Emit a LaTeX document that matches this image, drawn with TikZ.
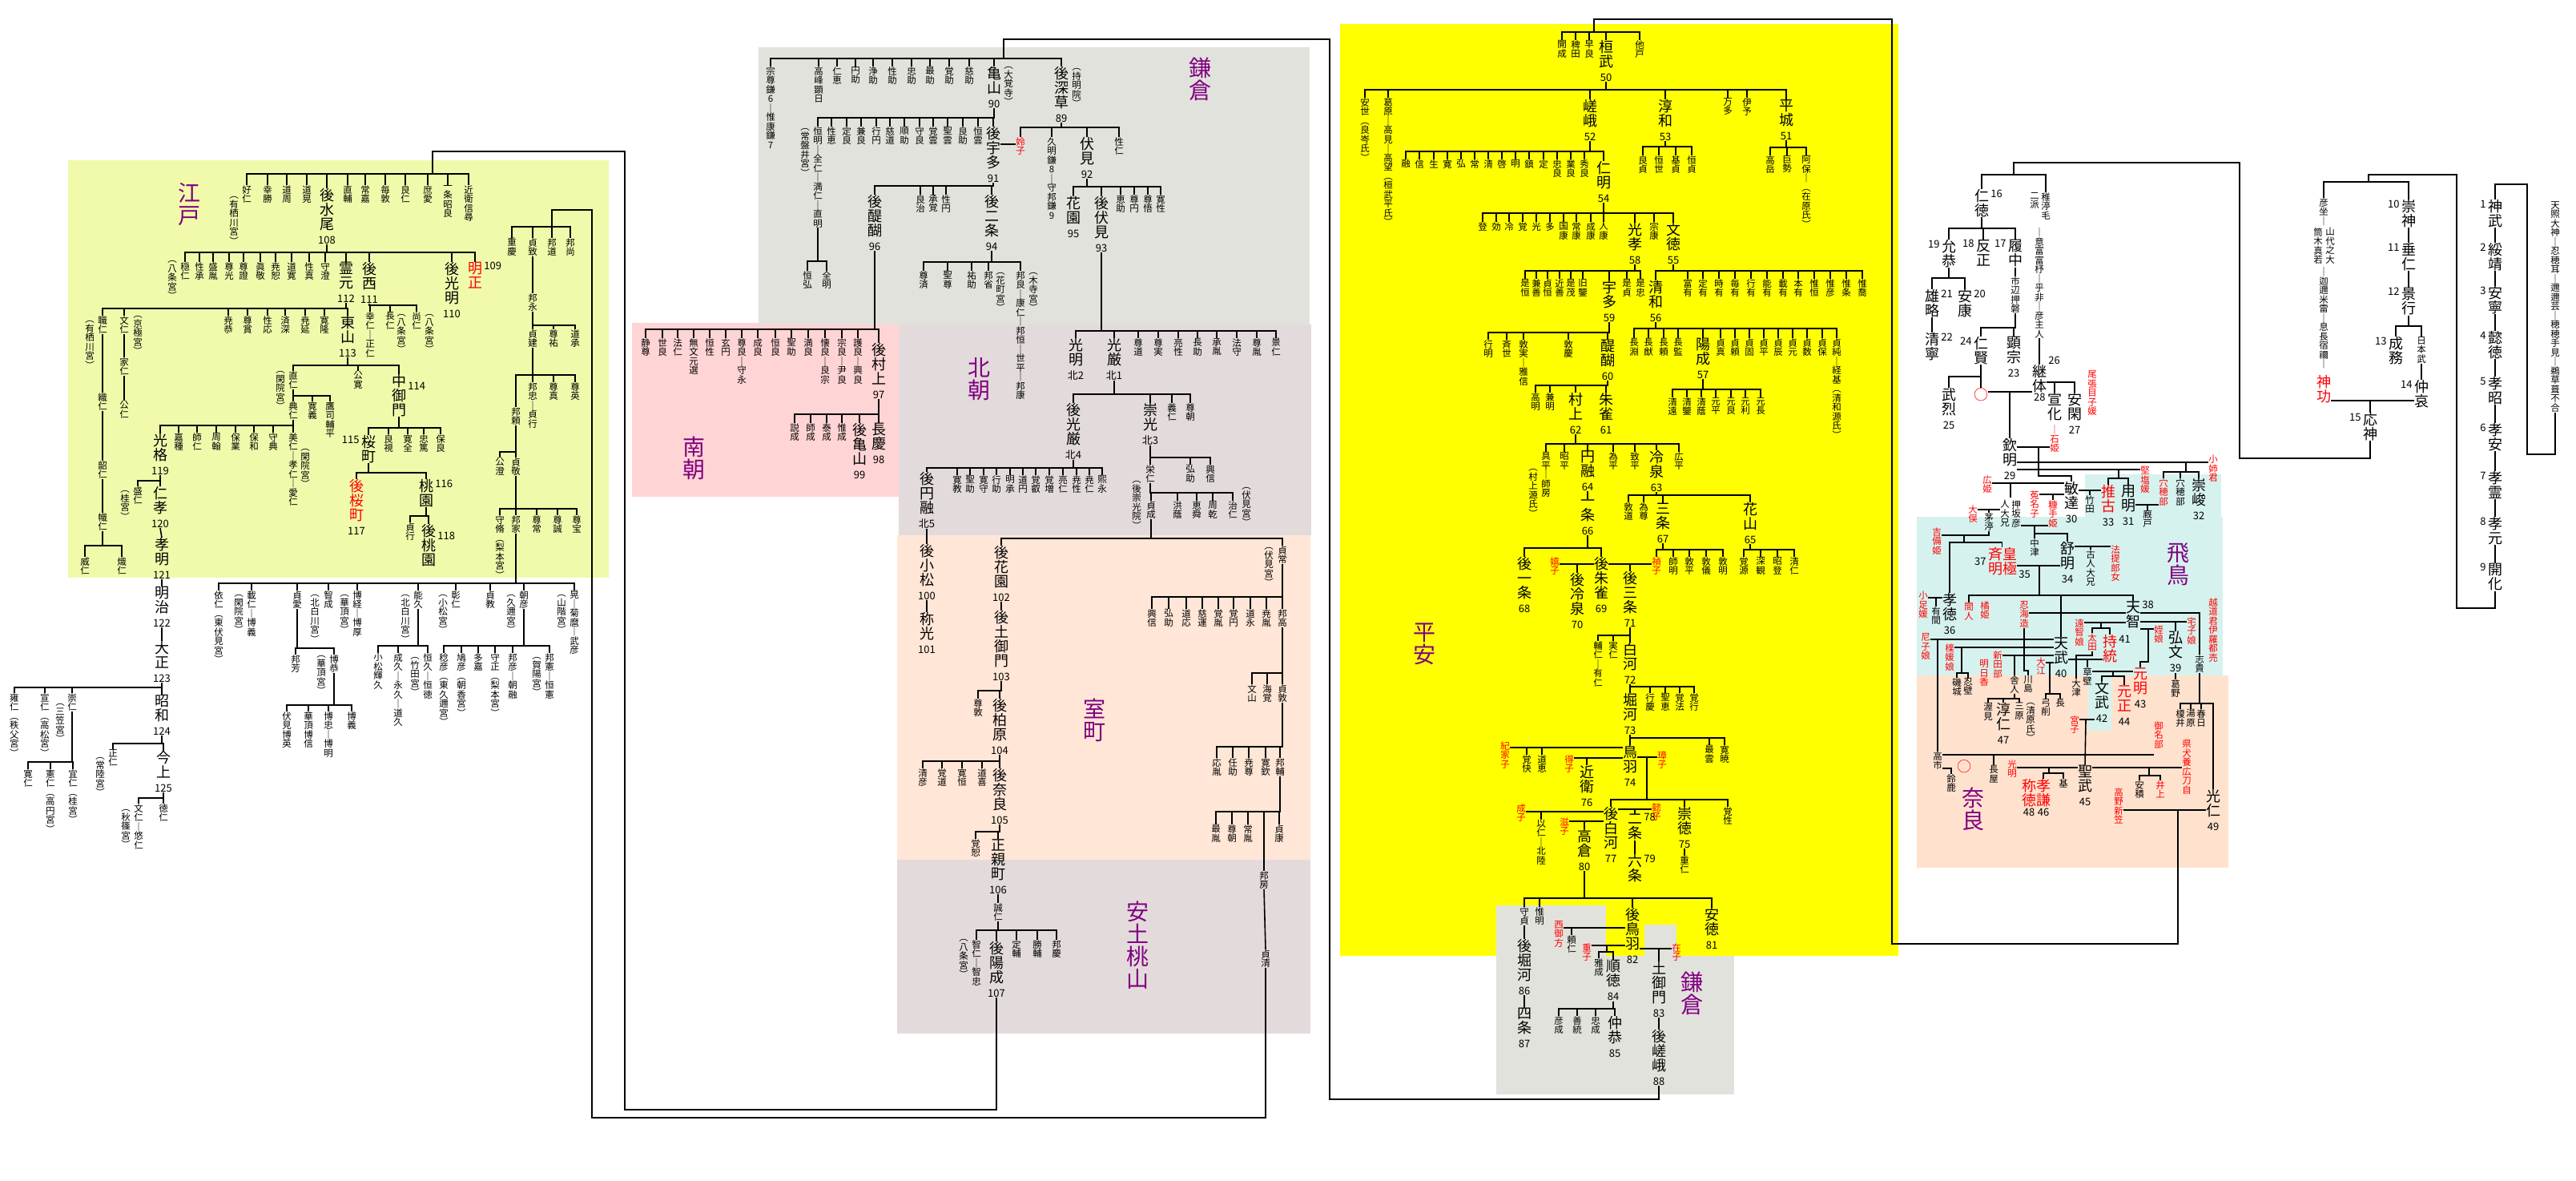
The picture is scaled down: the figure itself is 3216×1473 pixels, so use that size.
\documentclass[tikz,border=0pt]{standalone}
\usepackage{fontspec}
\setmainfont{Noto Sans CJK JP}
\definecolor{edoC}{RGB}{240,250,170}
\definecolor{kamaC}{RGB}{226,226,220}
\definecolor{hokuC}{RGB}{227,219,219}
\definecolor{nanC}{RGB}{255,212,212}
\definecolor{muroC}{RGB}{255,230,214}
\definecolor{heiC}{RGB}{255,255,0}
\definecolor{asuC}{RGB}{214,242,238}
\definecolor{naraC}{RGB}{255,226,206}
\definecolor{eraC}{RGB}{128,0,128}
\ExplSyntaxOn
\cs_new_protected:Npn \jv_vt:n #1
  {
    \vbox:n
      {
        \skip_set:Nn \baselineskip { 1.0em }
        \dim_set:Nn \lineskiplimit { -\maxdimen }
        \tl_map_inline:nn {#1} { \hbox_to_wd:nn { 1em } { \hss ##1 \hss } }
      }
  }
\cs_generate_variant:Nn \jv_vt:n { e }
\NewDocumentCommand \vt { m } { \jv_vt:e {#1} }
\cs_new_protected:Npn \jv_vtn:nn #1 #2
  {
    \vbox:n
      {
        \skip_set:Nn \baselineskip { 1.0em }
        \dim_set:Nn \lineskiplimit { -\maxdimen }
        \tl_map_inline:nn {#1} { \hbox_to_wd:nn { 1em } { \hss ##1 \hss } }
        \hbox_to_wd:nn { 1em } { \hss \color{black}\fontsize{6.5}{7}\selectfont #2 \hss }
      }
  }
\NewDocumentCommand \vtn { m m } { \jv_vtn:nn {#1} {#2} }
\ExplSyntaxOff
\tikzset{
 emp/.style={anchor=north,inner sep=0pt,font=\fontsize{9}{9}\selectfont},
 mn/.style={anchor=north,inner sep=0pt,font=\fontsize{5.75}{5.75}\selectfont},
 rd/.style={text=red},
 nmb/.style={inner sep=0.8pt,text=black,font=\fontsize{6.5}{7}\selectfont},
 nl/.style={label={[nmb]150:#1}},
 nr/.style={label={[nmb]30:#1}},
 era/.style={anchor=north,inner sep=0pt,font=\fontsize{14}{14}\selectfont,text=eraC},
 lk/.style={line width=0.8pt},
 dotn/.style={inner sep=0pt,minimum size=0pt,outer sep=0pt},
}
\newcommand\ch[3]{\foreach \cn in {#3}{\draw[lk] (#1.south) |- (\cn.north |- 0,#2) -- (\cn.north);}}
\newcommand\kids[4]{%
  \foreach \kx/\kn [count=\ki] in {#4}{%
    \node[mn] (#1k\ki) at (\kx,#3) {\vt{\kn}};
    \draw[lk] (#1.south) |- (\kx,#2) -- (#1k\ki.north);
  }}
\begin{document}
\begin{tikzpicture}[x=0.5pt,y=-0.5pt]
\useasboundingbox (0,0) rectangle (3216,1473);
\fill[white] (0,0) rectangle (3216,1473);
% ---------- era boxes
\fill[edoC] (85,200) rectangle (760,721);
\fill[nanC] (789,403) rectangle (1122,620);
\fill[kamaC] (947,59) rectangle (1635,405);
\fill[hokuC] (1122,405) rectangle (1637,668);
\fill[muroC] (1120,668) rectangle (1636,1073);
\fill[hokuC] (1120,1073) rectangle (1636,1290);
\fill[heiC] (1673,30) rectangle (2370,1193);
\fill[kamaC] (1868,1130) rectangle (2005,1366);
\fill[kamaC] (2005,1193) rectangle (2165,1366);
\fill[kamaC] (2053,1154) rectangle (2093,1193);
\fill[asuC] (2393,645) rectangle (2775,843);
\fill[asuC] (2603,592) rectangle (2773,645);
\fill[naraC] (2393,843) rectangle (2782,1083);
\fill[asuC] (2607,843) rectangle (2636,912);
% ---------- era labels
\node[era] (edoL) at (236,228) {\vt{江戸}};
\node[era] (nanL) at (866,545) {\vt{南朝}};
\node[era] (kamaL) at (1498,72) {\vt{鎌倉}};
\node[era] (hokuL) at (1222,446) {\vt{北朝}};
\node[era] (muroL) at (1366,872) {\vt{室町}};
\node[era] (azuL) at (1420,1125) {\vt{安土桃山}};
\node[era] (heiL) at (1778,777) {\vt{平安}};
\node[era] (kama2L) at (2112,1213) {\vt{鎌倉}};
\node[era] (asuL) at (2719,677) {\vt{飛鳥}};
\node[era] (naraL) at (2463,983) {\vt{奈良}};

% ================= mythological / early =================
\node[mn] (amat) at (3190,251) {\vt{天照大神｜忍穂耳｜邇邇芸｜穂穂手見｜鵜草葺不合}};
\node[emp,nl=1] (e1) at (3115,249) {\vt{神武}};
\node[emp,nl=2] (e2) at (3115,303) {\vt{綏靖}};
\node[emp,nl=3] (e3) at (3115,357) {\vt{安寧}};
\node[emp,nl=4] (e4) at (3115,413) {\vt{懿徳}};
\node[emp,nl=5] (e5) at (3115,470) {\vt{孝昭}};
\node[emp,nl=6] (e6) at (3115,528) {\vt{孝安}};
\node[emp,nl=7] (e7) at (3115,588) {\vt{孝霊}};
\node[emp,nl=8] (e8) at (3115,645) {\vt{孝元}};
\node[emp,nl=9] (e9) at (3115,703) {\vt{開化}};
\foreach \a/\b in {e1/e2,e2/e3,e3/e4,e4/e5,e5/e6,e6/e7,e7/e8,e8/e9} \draw[lk] (\a.south) -- (\b.north);
\draw[lk] (e1.north) -- (3115,230) -- (3155,230) -- (3155,567) -- (3190,567) -- (amat.south);
\node[dotn] (sjb) at (2957,227) {};
\draw[lk] (e9.south) -- (3115,759) -- (3067,759) -- (3067,218) -- (2957,218) -- (sjb);
\node[mn] (hiko) at (2901,247) {\vt{彦坐｜}};
\node[emp,nl=10] (e10) at (3007,249) {\vt{崇神}};
\foreach \n in {hiko,e10} \draw[lk] (sjb) -| (\n.north);
\node[mn] (yamaA) at (2909,284) {\vt{山代之大}};
\node[mn] (yamaB) at (2894,284) {\vt{筒木真若}};
\node[mn] (kane) at (2901,333) {\vt{｜迦邇米雷｜息長宿禰｜}};
\node[emp,rd] (jingu) at (2901,468) {\vt{神功}};
\node[emp,nl=11] (e11) at (3007,303) {\vt{垂仁}};
\node[emp,nl=12] (e12) at (3007,359) {\vt{景行}};
\draw[lk] (e10.south) -- (e11.north);
\draw[lk] (e11.south) -- (e12.north);
\node[dotn] (kgyb) at (3007,407) {};
\draw[lk] (e12.south) -- (kgyb);
\node[emp,nl=13] (e13) at (2991,420) {\vt{成務}};
\node[mn] (takeru) at (3023,420) {\vt{日本武}};
\foreach \n in {e13,takeru} \draw[lk] (kgyb) -| (\n.north);
\node[emp,nl=14] (e14) at (3023,474) {\vt{仲哀}};
\draw[lk] (takeru.south) -- (e14.north);
\draw[lk] (jingu.east |- 0,500) -- (e14.west |- 0,500);
\node[emp,nl=15] (e15) at (2959,515) {\vt{応神}};
\draw[lk] (2959,500) -- (e15.north);
\node[dotn] (ojb) at (2514,218) {};
\draw[lk] (e15.south) -- (2959,572) -- (2796,572) -- (2796,203) -- (2514,203) -- (ojb);

% ================= Kofun =================
\node[emp,nr=16] (e16) at (2474,236) {\vt{仁徳}};
\node[mn] (chigiA) at (2554,240) {\vt{稚渟毛}};
\node[mn] (chigiB) at (2540,240) {\vt{二派}};
\foreach \n in {e16,chigiA} \draw[lk] (ojb) -| (\n.north);
\node[mn] (ofo) at (2546,284) {\vt{｜意富富杼｜乎非｜彦主人}};
\node[emp,label={[nmb]60:26}] (e26) at (2546,455) {\vt{継体}};
\draw[lk] (ofo.south) -- (e26.north);
\node[emp,nl=19] (e19) at (2433,299) {\vt{允恭}};
\node[emp,nl=18] (e18) at (2476,299) {\vt{反正}};
\node[emp,nl=17] (e17) at (2516,299) {\vt{履中}};
\ch{e16}{285}{e19,e18,e17}
\node[mn] (ichinobe) at (2516,345) {\vt{市辺押磐}};
\draw[lk] (e17.south) -- (ichinobe.north);
\node[emp,nr=21] (e21) at (2412,361) {\vt{雄略}};
\node[emp,nr=20] (e20) at (2453,361) {\vt{安康}};
\ch{e19}{347}{e21,e20}
\node[emp,nr=22] (e22) at (2412,415) {\vt{清寧}};
\draw[lk] (e21.south) -- (e22.north);
\node[emp,nl=24] (e24) at (2473,420) {\vt{仁賢}};
\node[emp] (e23) at (2514,420) {\vtn{顕宗}{23}};
\ch{ichinobe}{409}{e24,e23}
\node[emp] (e25) at (2433,484) {\vtn{武烈}{25}};
\node[emp,rd] (maru1) at (2473,484) {○};
\ch{e24}{470}{e25,maru1}
\node[emp,nl=28] (e28) at (2565,490) {\vt{宣化}};
\node[emp] (e27) at (2590,490) {\vtn{安閑}{27}};
\draw[lk] (e26.east |- 0,477) -| (e28.north);
\draw[lk] (e26.east |- 0,477) -| (e27.north);
\node[mn,rd] (ishihime) at (2565,530) {\vt{｜石姫}};
\node[mn,rd] (owari) at (2612,462) {\vt{尾張目子媛}};
\node[emp] (e29) at (2509,547) {\vtn{欽明}{29}};
\draw[lk] (maru1.east |- 0,489) -- (e26.west |- 0,489);
\draw[lk] (2509,489) -- (e29.north);
\draw[lk] (e29.east |- 0,558) -- (ishihime.west |- 0,558);
\node[emp] (e30) at (2586,601) {\vtn{敏達}{30}};
\draw[lk] (2545,558) -- (2545,594) -| (e30.north);
\node[mn,rd] (koane) at (2763,568) {\vt{小姉君}};
\draw[lk] (e29.east |- 0,577) -- (koane.west |- 0,577);
\draw[lk] (2729,577) -- (2729,589);
\node[mn,rd] (anahoR) at (2701,597) {\vt{穴穂部}};
\node[mn] (anaho) at (2722,597) {\vt{穴穂部}};
\node[emp] (e32) at (2745,597) {\vtn{崇峻}{32}};
\foreach \n in {anahoR,anaho,e32} \draw[lk] (2729,589) -| (\n.north);
\node[mn,rd] (kitashi) at (2678,582) {\vt{堅塩媛}};
\draw[lk] (e29.east |- 0,586) -- (kitashi.west |- 0,586);
\draw[lk] (2645,586) -- (2645,597);
\node[emp,rd] (e33) at (2632,605) {\vtn{推古}{33}};
\node[emp] (e31) at (2657,605) {\vtn{用明}{31}};
\foreach \n in {e33,e31} \draw[lk] (2645,597) -| (\n.north);
\node[mn] (takeda) at (2609,618) {\vt{竹田}};
\draw[lk] (e30.east |- 0,612) -- (e33.west |- 0,612);
\draw[lk] (2609,612) -- (takeda.north);
\node[mn] (umayado) at (2681,637) {\vt{厩戸}};
\draw[lk] (e31.east |- 0,630) -- (anahoR.west |- 0,630);
\draw[lk] (2681,630) -- (umayado.north);
\node[mn,rd] (hiro) at (2481,593) {\vt{広姫}};
\draw[lk] (hiro.east |- 0,603) -- (e30.west |- 0,603);
\node[mn] (oshiA) at (2517,624) {\vt{押坂彦}};
\node[mn] (oshiB) at (2503,624) {\vt{人大兄}};
\draw[lk] (2510,603) -- (2510,621);
\node[mn,rd] (unako) at (2540,612) {\vt{菟名子}};
\node[mn,rd] (nukate) at (2563,624) {\vt{糠手姫}};
\draw[lk] (unako.east |- 0,617) -- (e30.west |- 0,617);
\draw[lk] (2563,617) -- (nukate.north);
\draw[lk] (oshiA.east |- 0,656) -- (nukate.west |- 0,656);
\draw[lk] (2540,656) -- (2540,666);
\node[mn] (nakatsu) at (2540,672) {\vt{中津}};
\node[emp] (e34) at (2581,676) {\vtn{舒明}{34}};
\foreach \n in {nakatsu,e34} \draw[lk] (2540,666) -| (\n.north);
\node[mn,rd] (omata) at (2463,630) {\vt{大俣}};
\node[mn] (chinu) at (2483,640) {\vt{茅渟}};
\draw[lk] (omata.east |- 0,636) -- (oshiB.west |- 0,636);
\draw[lk] (2483,636) -- (chinu.north);
\node[mn,rd] (kibi) at (2418,658) {\vt{吉備姫}};
\draw[lk] (kibi.east |- 0,668) -| (chinu.south);
\draw[lk] (2452,668) -- (2452,677);

% ================= Asuka / Nara =================
\node[emp] (e36) at (2434,740) {\vtn{孝徳}{36}};
\node[emp,rd,label={[nmb]below right:35}] (kogyoku) at (2509,683) {\vt{皇極}};
\node[emp,rd,label={[nmb]left:37}] (saimei) at (2491,683) {\vt{斉明}};
\draw[lk] (2452,677) -| (e36.north);
\draw[lk] (2452,677) -| (kogyoku.north west);
\draw[lk] (kogyoku.east |- 0,706) -- (e34.west |- 0,706);
\draw[lk] (2546,706) -- (2546,743);
\node[emp,nr=38] (e38) at (2663,750) {\vt{天智}};
\node[emp] (e40) at (2573,795) {\vtn{天武}{40}};
\node[mn,rd] (hashihito) at (2458,752) {\vt{間人}};
\foreach \n in {hashihito,e40,e38} \draw[lk] (2546,743) -| (\n.north);
\node[mn,rd] (kotarashi) at (2401,738) {\vt{小足媛}};
\node[mn] (arima) at (2417,757) {\vt{有間}};
\draw[lk] (kotarashi.east |- 0,746) -- (e36.west |- 0,746);
\draw[lk] (2417,746) -- (arima.north);
\node[mn] (furuhito) at (2610,686) {\vt{古人大兄}};
\node[mn,rd] (hote) at (2641,680) {\vt{法提郎女}};
\draw[lk] (e34.east |- 0,682) -- (hote.west |- 0,682);
\draw[lk] (2610,682) -- (furuhito.north);
\node[mn,rd] (tachibana) at (2478,750) {\vt{橘姫}};
\node[mn,rd] (oshinumi) at (2527,750) {\vt{忍海造}};
\draw[lk] (oshinumi.east |- 0,765) -- (e38.west |- 0,765);
\node[mn] (kawashima) at (2532,843) {\vt{川島}};
\draw[lk] (oshinumi.south) -- (2527,837) -| (kawashima.north);
\node[mn,rd] (ochi) at (2596,772) {\vt{遠智娘}};
\draw[lk] (ochi.east |- 0,777) -- (e38.west |- 0,777);
\draw[lk] (2623,777) -- (2623,784);
\node[mn,rd] (ota) at (2612,790) {\vt{太田}};
\node[emp,rd,nr=41] (e41) at (2634,792) {\vt{持統}};
\foreach \n in {ota,e41} \draw[lk] (2623,784) -| (\n.north);
\node[emp] (e39) at (2716,788) {\vtn{弘文}{39}};
\node[mn,rd] (yaka) at (2736,770) {\vt{宅子娘}};
\draw[lk] (e38.east |- 0,776) -- (yaka.west |- 0,776);
\draw[lk] (2716,776) -- (e39.north);
\node[mn] (kadono) at (2716,848) {\vt{葛野}};
\draw[lk] (e39.south) -- (kadono.north);
\node[mn,rd] (mei) at (2695,780) {\vt{姪娘}};
\draw[lk] (e38.east |- 0,785) -- (mei.west |- 0,785);
\node[emp,rd] (e43) at (2672,833) {\vtn{元明}{43}};
\draw[lk] (2682,785) -- (2682,826) -| (e43.north);
\node[mn] (kusakabe) at (2606,833) {\vt{草壁}};
\draw[lk] (e40.east |- 0,823) -- (e41.west |- 0,823);
\draw[lk] (2606,823) -- (kusakabe.north);
\node[mn] (otsu) at (2592,847) {\vt{大津}};
\draw[lk] (ota.south) -- (2612,818) -| (otsu.north);
\draw[lk] (kusakabe.east |- 0,838) -- (e43.west |- 0,838);
\draw[lk] (2638,838) -- (2638,844);
\node[emp] (e42) at (2624,850) {\vtn{文武}{42}};
\node[emp,rd] (e44) at (2652,855) {\vtn{元正}{44}};
\foreach \n in {e42,e44} \draw[lk] (2638,844) -| (\n.north);
\node[mn,rd] (miyako) at (2590,893) {\vt{宮子}};
\node[emp] (e45) at (2603,955) {\vtn{聖武}{45}};
\draw[lk] (miyako.east |- 0,898) -- (e42.west |- 0,898);
\draw[lk] (2604,898) -- (e45.north);
\node[mn,rd] (komyo) at (2512,948) {\vt{光明}};
\draw[lk] (komyo.east |- 0,958) -- (e45.west |- 0,958);
\draw[lk] (2558,958) -- (2558,965);
\node[emp,rd,label={[nmb]below:46}] (koken) at (2551,972) {\vt{孝謙}};
\node[emp,rd,label={[nmb]below:48}] (shotoku) at (2533,972) {\vt{称徳}};
\node[mn] (motoi) at (2576,972) {\vt{基}};
\foreach \n in {koken,motoi} \draw[lk] (2558,965) -| (\n.north);
\node[mn,rd] (agata) at (2730,923) {\vt{県犬養広刀自}};
\draw[lk] (e45.east |- 0,958) -- (agata.west |- 0,958);
\draw[lk] (2683,958) -- (2683,968);
\node[mn] (asaka) at (2671,974) {\vt{安積}};
\node[mn,rd] (inoue) at (2697,974) {\vt{井上}};
\foreach \n in {asaka,inoue} \draw[lk] (2683,968) -| (\n.north);
\node[mn,rd] (amako) at (2404,790) {\vt{尼子娘}};
\draw[lk] (amako.east |- 0,798) -- (e40.west |- 0,798);
\node[mn] (takechi) at (2419,938) {\vt{高市}};
\draw[lk] (2419,798) -- (takechi.north);
\node[mn,rd] (kaji) at (2434,803) {\vt{檪媛娘}};
\draw[lk] (kaji.east |- 0,808) -- (e40.west |- 0,808);
\draw[lk] (2449,808) -- (2449,840);
\node[mn] (shiki2) at (2443,846) {\vt{磯城}};
\node[mn] (osakabe) at (2457,846) {\vt{忍壁}};
\foreach \n in {shiki2,osakabe} \draw[lk] (2449,840) -| (\n.north);
\node[mn,rd] (niitabe) at (2494,812) {\vt{新田部}};
\draw[lk] (niitabe.east |- 0,818) -- (e40.west |- 0,818);
\node[mn] (toneri) at (2515,843) {\vt{舎人}};
\draw[lk] (2515,818) -- (toneri.north);
\node[mn,rd] (asuka) at (2477,823) {\vt{明日香}};
\node[mn,rd] (ooe) at (2548,820) {\vt{大江}};
\draw[lk] (ooe.east |- 0,827) -- (e40.west |- 0,827);
\draw[lk] (2559,827) -- (2559,866);
\node[mn] (yuge) at (2554,872) {\vt{弓削}};
\node[mn] (naga) at (2572,872) {\vt{長}};
\foreach \n in {yuge,naga} \draw[lk] (2559,866) -| (\n.north);
\node[mn] (atsumi) at (2482,877) {\vt{渥見}};
\node[emp] (e47) at (2501,877) {\vtn{淳仁}{47}};
\node[mn] (mihara) at (2521,877) {\vt{三原}};
\ch{toneri}{872}{atsumi,e47,mihara}
\node[mn] (kiyohara) at (2535,877) {\vt{︵清原氏︶}};
\node[mn,rd] (minabe) at (2695,900) {\vt{御名部}};
\draw[lk] (takechi.east |- 0,942) -- (minabe.west |- 0,942);
\node[mn] (nagaya) at (2489,955) {\vt{長屋}};
\draw[lk] (2489,942) -- (nagaya.north);
\node[mn] (suzuka) at (2436,966) {\vt{鈴鹿}};
\draw[lk] (takechi.east |- 0,959) -| (suzuka.north);
\node[emp,rd] (maru2) at (2452,948) {○};
\node[mn,rd] (koshi) at (2763,746) {\vt{越道君伊羅都売}};
\node[mn] (shiki) at (2746,817) {\vt{志貴}};
\draw[lk] (e38.east |- 0,765) -| (shiki.north);
\node[mn] (enoi) at (2722,885) {\vt{榎井}};
\node[mn] (yuhara) at (2735,885) {\vt{湯原}};
\node[mn] (kasuga) at (2748,885) {\vt{春日}};
\node[emp] (e49) at (2763,985) {\vtn{光仁}{49}};
\ch{shiki}{878}{enoi,yuhara,kasuga,e49}
\node[mn,rd] (takano) at (2645,983) {\vt{高野新笠}};
\draw[lk] (takano.east |- 0,1011) -- (e49.west |- 0,1011);

% ================= Heian =================
\node[mn] (kaisei) at (1950,50) {\vt{開成}};
\node[mn] (hieda) at (1967,50) {\vt{稗田}};
\node[mn] (sawara) at (1984,50) {\vt{早良}};
\node[emp] (e50) at (2005,50) {\vtn{桓武}{50}};
\node[mn] (osabe) at (2047,50) {\vt{他戸}};
\node[dotn] (kmb) at (1990,40) {};
\foreach \n in {kaisei,hieda,sawara,e50,osabe} \draw[lk] (kmb) -| (\n.north);
\draw[lk] (kmb) -- (1990,24) -- (2362,24) -- (2362,1178) -- (2719,1178) -- (2719,1011);
\node[mn] (yasuyo) at (1704,122) {\vt{安世︵良岑氏︶}};
\node[mn] (kuzuhara) at (1733,122) {\vt{葛原｜高見｜高望︵桓武平氏︶}};
\node[emp] (e52) at (1985,124) {\vtn{嵯峨}{52}};
\node[emp] (e53) at (2079,124) {\vtn{淳和}{53}};
\node[mn] (manta) at (2157,122) {\vt{万多}};
\node[mn] (iyo) at (2181,122) {\vt{伊予}};
\node[emp] (e51) at (2230,124) {\vtn{平城}{51}};
\ch{e50}{112}{yasuyo,kuzuhara,e52,e53,manta,iyo,e51}
\kids{e52}{189}{199}{1755/融,1772/信,1790/生,1807/寛,1824/弘,1841/常,1858/清,1875/啓,1892/明,1909/鎮,1927/定,1944/忠良,1961/業良,1978/秀良}
\node[emp] (e54) at (2002,201) {\vtn{仁明}{54}};
\ch{e52}{189}{e54}
\kids{e53}{183}{194}{2051/良貞,2071/恒世,2092/基貞,2112/恒貞}
\kids{e51}{184}{194}{2210/高岳,2231/巨勢,2255/阿保｜︵在原氏︶}
\node[emp] (e58) at (2041,278) {\vtn{光孝}{58}};
\node[emp] (e55) at (2089,278) {\vtn{文徳}{55}};
\kids{e54}{266}{277}{1851/登,1868/効,1884/冷,1901/覚,1918/光,1935/多,1952/国康,1968/常康,1986/成康,2002/人康,2065/宗康}
\ch{e54}{266}{e58,e55}
\node[emp] (e59) at (2009,350) {\vtn{宇多}{59}};
\kids{e58}{338}{348}{1904/是恒,1918/兼善,1932/貞恒,1947/近善,1961/是茂,1976/旧鑒,2031/是貞,2048/是忠}
\ch{e58}{338}{e59}
\node[emp] (e56) at (2067,350) {\vtn{清和}{56}};
\kids{e55}{338}{348}{2107/富有,2126/定有,2146/時有,2166/毎有,2186/行有,2206/能有,2226/載有,2245/本有,2265/惟恒,2285/惟彦,2305/惟条,2325/惟喬}
\ch{e55}{338}{e56}
\node[emp] (e60) at (2007,424) {\vtn{醍醐}{60}};
\kids{e59}{415}{424}{1858/行明,1881/斉世,1902/敦実｜雅信,1958/敦慶}
\ch{e59}{415}{e60}
\node[emp] (e57) at (2126,422) {\vtn{陽成}{57}};
\kids{e56}{410}{422}{2040/長淵,2058/長猷,2077/長頼,2095/長監,2148/貞真,2166/貞頼,2184/貞固,2202/貞平,2220/貞辰,2238/貞元,2256/貞数,2275/貞保,2293/貞純｜経基︵清和源氏︶}
\ch{e56}{410}{e57}
\kids{e57}{486}{496}{2088/清遠,2106/清鑒,2124/清蔭,2142/元平,2161/元良,2179/元利,2198/元長}
\node[emp] (e62) at (1967,490) {\vtn{村上}{62}};
\node[emp] (e61) at (2005,490) {\vtn{朱雀}{61}};
\kids{e60}{481}{490}{1917/高明,1935/兼明}
\ch{e60}{481}{e62,e61}
\node[emp] (e64) at (1982,562) {\vtn{円融}{64}};
\node[emp] (e63) at (2068,562) {\vtn{冷泉}{63}};
\kids{e62}{554}{564}{1930/具平｜師房,1953/昭平,2014/為平,2041/致平,2096/広平}
\ch{e62}{554}{e64,e63}
\node[mn] (mgenji) at (1914,585) {\vt{︵村上源氏︶}};
\node[emp] (e66) at (1982,623) {\vtn{一条}{66}};
\draw[lk] (e64.south) -- (e66.north);
\node[emp] (e67) at (2076,628) {\vtn{三条}{67}};
\node[emp] (e65) at (2185,627) {\vtn{花山}{65}};
\kids{e63}{618}{627}{2033/敦道,2052/為尊}
\ch{e63}{618}{e67,e65}
\node[mn,rd] (teishi) at (2068,695) {\vt{禎子}};
\ch{e67}{686}{teishi}
\kids{e67}{686}{695}{2089/師明,2109/敦平,2130/敦儀,2151/敦明}
\kids{e65}{686}{695}{2177/覚源,2198/深観,2219/昭登,2240/清仁}
\node[emp] (e68) at (1903,695) {\vtn{後一条}{68}};
\node[emp] (e69) at (1999,695) {\vtn{後朱雀}{69}};
\ch{e66}{684}{e68,e69}
\node[mn,rd] (kishi) at (1941,695) {\vt{嬉子}};
\node[emp] (e70) at (1969,715) {\vtn{後冷泉}{70}};
\draw[lk] (kishi.east |- 0,704) -- (e69.west |- 0,704);
\draw[lk] (1969,704) -- (e70.north);
\node[emp] (e71) at (2035,713) {\vtn{後三条}{71}};
\draw[lk] (e69.east |- 0,704) -- (teishi.west |- 0,704);
\draw[lk] (2035,704) -- (e71.north);
\node[emp] (e72) at (2035,802) {\vtn{白河}{72}};
\kids{e71}{793}{800}{1995/輔仁｜有仁,2014/実仁}
\ch{e71}{793}{e72}
\node[emp] (e73) at (2035,865) {\vtn{堀河}{73}};
\ch{e72}{857}{e73}
\kids{e72}{857}{865}{2060/行慶,2079/聖恵,2097/覚法,2115/覚行}
\node[emp] (e74) at (2035,930) {\vtn{鳥羽}{74}};
\ch{e73}{921}{e74}
\kids{e73}{921}{930}{2134/最雲,2153/寛暁}
\node[mn,rd] (kike) at (1879,925) {\vt{紀家子}};
\draw[lk] (kike.east |- 0,933) -- (e74.west |- 0,933);
\node[mn] (kakukai) at (1906,942) {\vt{覚快}};
\node[mn] (doe) at (1925,942) {\vt{道恵}};
\draw[lk] (1906,933) -- (kakukai.north);
\draw[lk] (1925,933) -- (doe.north);
\node[mn,rd] (tokushi) at (1959,942) {\vt{得子}};
\draw[lk] (tokushi.east |- 0,946) -- (e74.west |- 0,946);
\node[emp] (e76) at (1981,955) {\vtn{近衛}{76}};
\draw[lk] (1981,946) -- (e76.north);
\node[mn,rd] (shoshi) at (2075,937) {\vt{璋子}};
\draw[lk] (e74.east |- 0,945) -- (shoshi.west |- 0,945);
\draw[lk] (2056,945) -- (2056,998);
\node[emp] (e77) at (2011,1007) {\vtn{後白河}{77}};
\node[emp] (e75) at (2103,1007) {\vtn{崇徳}{75}};
\node[mn] (kakusho) at (2157,1007) {\vt{覚性}};
\foreach \n in {e77,e75,kakusho} \draw[lk] (2056,998) -| (\n.north);
\node[mn] (shigehito) at (2103,1068) {\vt{重仁}};
\draw[lk] (e75.south) -- (shigehito.north);
\node[mn,rd] (ishi) at (2068,1002) {\vt{懿子}};
\draw[lk] (e77.east |- 0,1010) -- (ishi.west |- 0,1010);
\node[emp,nr=78] (e78) at (2041,1016) {\vt{二条}};
\draw[lk] (2041,1010) -- (e78.north);
\node[emp,nr=79] (e79) at (2041,1066) {\vt{六条}};
\draw[lk] (e78.south) -- (e79.north);
\node[mn,rd] (seishi) at (1899,1003) {\vt{成子}};
\draw[lk] (seishi.east |- 0,1013) -- (e77.west |- 0,1013);
\node[mn] (mochihito) at (1924,1023) {\vt{以仁｜北陸}};
\draw[lk] (1924,1013) -- (mochihito.north);
\node[mn,rd] (jishi) at (1953,1020) {\vt{滋子}};
\draw[lk] (jishi.east |- 0,1025) -- (e77.west |- 0,1025);
\node[emp] (e80) at (1978,1035) {\vtn{高倉}{80}};
\draw[lk] (1978,1025) -- (e80.north);
\node[dotn] (tkb) at (1978,1121) {};
\draw[lk] (e80.south) -- (tkb);
\node[mn] (morisada) at (1903,1132) {\vt{守貞}};
\node[mn] (koremochi) at (1922,1132) {\vt{惟明}};
\node[emp] (e82) at (2038,1133) {\vtn{後鳥羽}{82}};
\node[emp] (e81) at (2137,1133) {\vtn{安徳}{81}};
\foreach \n in {morisada,koremochi,e82,e81} \draw[lk] (tkb) -| (\n.north);
\node[emp] (e86) at (1903,1172) {\vtn{後堀河}{86}};
\draw[lk] (morisada.south) -- (e86.north);
\node[emp] (e87) at (1903,1258) {\vtn{四条}{87}};
\draw[lk] (e86.south) -- (e87.north);
\node[mn,rd] (nishi) at (1946,1149) {\vt{西御方}};
\draw[lk] (nishi.east |- 0,1158) -- (e82.west |- 0,1158);
\node[mn] (yorihito) at (1962,1167) {\vt{頼仁}};
\draw[lk] (1962,1158) -- (yorihito.north);
\node[mn,rd] (juko) at (1981,1177) {\vt{重子}};
\draw[lk] (juko.east |- 0,1180) -- (e82.west |- 0,1180);
\draw[lk] (2006,1180) -- (2006,1188);
\node[mn] (masanari) at (1996,1196) {\vt{雅成}};
\node[emp] (e84) at (2014,1198) {\vtn{順徳}{84}};
\foreach \n in {masanari,e84} \draw[lk] (2006,1188) -| (\n.north);
\node[mn,rd] (zaishi) at (2093,1177) {\vt{在子}};
\draw[lk] (e82.east |- 0,1184) -- (zaishi.west |- 0,1184);
\node[emp] (e83) at (2071,1200) {\vtn{土御門}{83}};
\draw[lk] (2071,1184) -- (e83.north);
\node[emp] (e88) at (2071,1285) {\vtn{後嵯峨}{88}};
\draw[lk] (e83.south) -- (e88.north);
\kids{e84}{1259}{1268}{1946/彦成,1969/善統,1992/忠成}
\node[emp] (e85) at (2016,1268) {\vtn{仲恭}{85}};
\ch{e84}{1259}{e85}
\node[dotn] (kgb) at (1253,73) {};
\draw[lk] (e88.south) -- (2071,1372) -- (1660,1372) -- (1660,49) -- (1253,49) -- (kgb);

% ================= Kamakura =================
\kids{kgb}{73}{83}{962/宗尊鎌6｜惟康鎌7,1022/高峰顕日,1045/仁恵,1068/円助,1090/浄助,1114/性助,1138/忠助,1161/最助,1185/覚助,1210/慈助}
\node[emp] (e90) at (1241,83) {\vtn{亀山}{90}};
\node[emp] (e89) at (1325,83) {\vtn{後深草}{89}};
\ch{kgb}{73}{e90,e89}
\node[mn] (daikakuji) at (1259,83) {\vt{︵大覚寺︶}};
\node[mn] (jimyoin) at (1344,85) {\vt{︵持明院︶}};
\kids{e90}{147}{158}{1021/恒明｜全仁｜満仁｜直明,1038/性恵,1057/定良,1075/兼良,1094/行円,1111/慈道,1129/順助,1148/守良,1165/覚雲,1183/聖雲,1202/良助,1221/恒雲}
\node[emp] (e91) at (1240,158) {\vtn{後宇多}{91}};
\ch{e90}{147}{e91}
\node[mn] (tokiwai) at (1005,160) {\vt{︵常盤井宮︶}};
\kids{e90k1}{326}{338}{1008/恒弘,1032/全明}
\node[mn,rd] (reishi) at (1274,171) {\vt{姈子}};
\kids{e89}{159}{171}{1313/久明鎌8｜守邦鎌9,1397/性仁}
\node[emp] (e92) at (1357,171) {\vtn{伏見}{92}};
\ch{e89}{159}{reishi,e92}
\draw[lk] (e91.east |- 0,180) -- (reishi.west |- 0,180);
\node[emp] (e96) at (1092,243) {\vtn{後醍醐}{96}};
\node[emp] (e94) at (1238,243) {\vtn{後二条}{94}};
\kids{e91}{232}{243}{1149/良治,1165/承覚,1181/性円}
\ch{e91}{232}{e96,e94}
\node[emp] (e95) at (1340,245) {\vtn{花園}{95}};
\node[emp] (e93) at (1375,245) {\vtn{後伏見}{93}};
\ch{e92}{233}{e95,e93}
\kids{e92}{233}{243}{1399/恵助,1416/尊円,1433/尊悟,1449/寛性}
\kids{e94}{327}{338}{1153/尊済,1183/聖尊,1213/祐助,1234/邦省,1274/邦良｜康仁｜邦恒｜世平｜邦康}
\node[mn] (hanamachi) at (1249,340) {\vt{︵花町宮︶}};
\node[mn] (kidera) at (1290,340) {\vt{︵木寺宮︶}};

% ================= Nanchō =================
\node[emp] (e97) at (1097,428) {\vtn{後村上}{97}};
\kids{e96}{411}{422}{806/静尊,827/世良,846/法仁,866/無文元選,886/恒性,906/玄円,926/尊良｜守永,946/成良,968/恒良,988/聖助,1009/満良,1030/懐良｜良宗,1051/宗良｜尹良,1071/護良｜興良}
\ch{e96}{411}{e97}
\node[emp] (e99) at (1073,528) {\vtn{後亀山}{99}};
\node[emp] (e98) at (1097,528) {\vtn{長慶}{98}};
\kids{e97}{517}{528}{992/説成,1012/師成,1032/泰成,1051/惟成}
\ch{e97}{517}{e99,e98}

% ================= Hokuchō =================
\node[emp] (n2) at (1343,422) {\vtn{光明}{北2}};
\node[emp] (n1) at (1391,422) {\vtn{光厳}{北1}};
\ch{e93}{413}{n2,n1}
\kids{e93}{413}{422}{1421/尊道,1446/尊実,1471/亮性,1495/長助,1519/承胤,1544/法守,1569/尊胤,1593/景仁}
\node[emp] (n4) at (1340,503) {\vtn{後光厳}{北4}};
\node[emp] (n3) at (1436,503) {\vtn{崇光}{北3}};
\ch{n1}{492}{n4,n3}
\kids{n1}{492}{503}{1463/義仁,1486/尊朝}
\node[mn] (yoshihito) at (1436,580) {\vt{栄仁}};
\ch{n3}{571}{yoshihito}
\kids{n3}{571}{580}{1486/弘助,1511/興信}
\node[mn] (sadafusa) at (1437,625) {\vt{貞成}};
\ch{yoshihito}{615}{sadafusa}
\kids{yoshihito}{615}{625}{1470/洪蔭,1494/恵舜,1514/周乾,1539/治仁}
\node[mn] (gosukoin) at (1419,600) {\vt{︵後崇光院︶}};
\node[mn] (fushimi2) at (1556,608) {\vt{︵伏見宮︶}};
\node[emp] (n5) at (1157,589) {\vtn{後円融}{北5}};
\ch{n4}{584}{n5}
\kids{n4}{584}{593}{1195/寛教,1211/聖助,1228/寛守,1244/行助,1261/明承,1277/道円,1293/覚叡,1310/覚増,1327/亮仁,1344/尭性,1360/尭仁,1376/熙永}

% ================= Muromachi / Azuchi-Momoyama =================
\node[emp] (e100) at (1157,679) {\vtn{後小松}{100}};
\draw[lk] (n5.south) -- (e100.north);
\node[emp] (e101) at (1157,764) {\vtn{称光}{101}};
\draw[lk] (e100.south) -- (e101.north);
\node[emp] (e102) at (1250,681) {\vtn{後花園}{102}};
\node[mn] (sadatsune) at (1601,681) {\vt{貞常}};
\ch{sadafusa}{672}{e102,sadatsune}
\node[mn] (fushimi3) at (1584,683) {\vt{︵伏見宮︶}};
\node[emp] (e103) at (1250,762) {\vtn{後土御門}{103}};
\draw[lk] (e102.south) -- (e103.north);
\node[emp] (e104) at (1248,872) {\vtn{後柏原}{104}};
\kids{e103}{862}{872}{1221/尊敦}
\ch{e103}{862}{e104}
\node[emp] (e105) at (1248,959) {\vtn{後奈良}{105}};
\kids{e104}{950}{959}{1152/清彦,1176/覚道,1201/寛恒,1226/道喜}
\ch{e104}{950}{e105}
\node[emp] (e106) at (1246,1047) {\vtn{正親町}{106}};
\kids{e105}{1038}{1047}{1218/覚恕}
\ch{e105}{1038}{e106}
\node[mn] (sanehito) at (1246,1127) {\vt{誠仁}};
\draw[lk] (e106.south) -- (sanehito.north);
\node[emp] (e107) at (1244,1175) {\vtn{後陽成}{107}};
\kids{sanehito}{1161}{1173}{1219/智仁｜智忠,1269/定輔,1295/勝輔,1319/邦慶}
\ch{sanehito}{1161}{e107}
\node[mn] (hachijo1) at (1203,1172) {\vt{︵八条宮︶}};
\node[dotn] (edb) at (540,217) {};
\draw[lk] (e107.south) -- (1244,1385) -- (780,1385) -- (780,189) -- (540,189) -- (edb);
\kids{sadatsune}{745}{760}{1438/興信,1459/弘助,1481/道応,1501/慈運,1521/覚胤,1540/覚円,1561/道永,1581/尭胤}
\node[mn] (kunitaka) at (1601,760) {\vt{邦高}};
\ch{sadatsune}{745}{kunitaka}
\kids{kunitaka}{840}{854}{1563/文山,1582/海覚}
\node[mn] (sadaatsu) at (1601,854) {\vt{貞敦}};
\ch{kunitaka}{840}{sadaatsu}
\kids{sadaatsu}{932}{946}{1519/応胤,1539/任助,1559/尭尊,1580/寛欽}
\node[mn] (kunisuke) at (1598,946) {\vt{邦輔}};
\ch{sadaatsu}{932}{kunisuke}
\kids{kunisuke}{1013}{1029}{1518/最胤,1538/尊朝,1558/常胤}
\node[mn] (sadayasu) at (1597,1029) {\vt{貞康}};
\node[mn] (kunifusa) at (1578,1087) {\vt{邦房}};
\ch{kunisuke}{1013}{sadayasu,kunifusa}
\node[mn] (sadakiyo) at (1580,1185) {\vt{貞清}};
\draw[lk] (kunifusa.south) -- (sadakiyo.north);
\node[dotn] (fsb) at (689,283) {};
\draw[lk] (sadakiyo.south) -- (1580,1395) -- (739,1395) -- (739,262) -- (689,262) -- (fsb);

% ================= Edo =================
\kids{edb}{217}{231}{308/好仁,334/幸勝,358/道周,383/道晃,434/直輔,456/常嘉,481/毎敦,506/良仁,534/庶愛,559/一条昭良,585/近衛信尋}
\node[emp] (e108) at (408,235) {\vtn{後水尾}{108}};
\ch{edb}{217}{e108}
\node[mn] (arisu1) at (292,245) {\vt{︵有栖川宮︶}};
\kids{e108}{315}{327}{231/穏仁,249/性承,266/盛胤,286/尊光,304/尊證,325/眞敬,344/尭恕,364/道寛,386/性真,406/守澄}
\node[emp] (e112) at (432,327) {\vtn{霊元}{112}};
\node[emp] (e111) at (461,327) {\vtn{後西}{111}};
\node[emp] (e110) at (564,327) {\vtn{後光明}{110}};
\node[emp,rd,nr=109] (e109) at (593,327) {\vt{明正}};
\ch{e108}{315}{e112,e111,e110,e109}
\node[mn] (hachijo2) at (215,325) {\vt{︵八条宮︶}};
\kids{e112}{385}{394}{285/尭恭,309/尊賞,334/性応,356/済深,381/尭延,405/寛隆}
\node[mn] (yorihito2) at (128,394) {\vt{職仁}};
\node[mn] (ayahito) at (155,394) {\vt{文仁}};
\node[emp] (e113) at (434,394) {\vtn{東山}{113}};
\ch{e112}{385}{yorihito2,ayahito,e113}
\node[mn] (arisu2) at (112,400) {\vt{︵有栖川宮︶}};
\node[mn] (kyogoku) at (172,394) {\vt{︵京極宮︶}};
\node[mn] (orihito) at (128,490) {\vt{織仁}};
\node[mn] (tsunahito) at (128,575) {\vt{韶仁}};
\node[mn] (takahito) at (128,640) {\vt{幟仁}};
\draw[lk] (yorihito2.south) -- (orihito.north);
\draw[lk] (orihito.south) -- (tsunahito.north);
\draw[lk] (tsunahito.south) -- (takahito.north);
\kids{takahito}{681}{695}{106/威仁,152/熾仁}
\node[mn] (iehito) at (155,446) {\vt{家仁}};
\node[mn] (kinhito) at (155,500) {\vt{公仁}};
\draw[lk] (ayahito.south) -- (iehito.north);
\draw[lk] (iehito.south) -- (kinhito.north);
\kids{e111}{381}{389}{462/幸仁｜正仁,487/長仁,520/尚仁}
\node[mn] (hachijo3) at (501,392) {\vt{︵八条宮︶}};
\node[mn] (hachijo4) at (536,392) {\vt{︵八条宮︶}};
\node[mn] (naohito) at (366,463) {\vt{直仁}};
\node[mn] (kokan) at (447,463) {\vt{公寛}};
\node[emp,nr=114] (e114) at (498,467) {\vt{中御門}};
\ch{e113}{456}{naohito,kokan,e114}
\node[mn] (kanin1) at (350,463) {\vt{︵閑院宮︶}};
\kids{naohito}{494}{501}{390/寛義,412/鷹司輔平}
\node[mn] (sukehito) at (366,501) {\vt{典仁}};
\ch{naohito}{494}{sukehito}
\kids{sukehito}{531}{540}{223/嘉種,246/師仁,270/周翰,294/保業,317/保和,341/守典,366/美仁｜孝仁｜愛仁}
\node[emp] (e119) at (200,541) {\vtn{光格}{119}};
\ch{sukehito}{531}{e119}
\node[mn] (kanin2) at (381,560) {\vt{︵閑院宮︶}};
\node[mn] (narihito) at (172,607) {\vt{盛仁}};
\node[emp] (e120) at (200,607) {\vtn{仁孝}{120}};
\ch{e119}{600}{narihito,e120}
\node[mn] (katsura1) at (156,612) {\vt{︵桂宮︶}};
\node[emp] (e121) at (202,671) {\vtn{孝明}{121}};
\draw[lk] (e120.south) -- (e121.north);
\node[emp] (e122) at (202,732) {\vtn{明治}{122}};
\draw[lk] (e121.south) -- (e122.north);
\node[emp] (e123) at (202,800) {\vtn{大正}{123}};
\draw[lk] (e122.south) -- (e123.north);
\node[emp] (e124) at (202,867) {\vtn{昭和}{124}};
\kids{e123}{858}{865}{18/雍仁︵秩父宮︶,56/宣仁︵高松宮︶}
\node[mn] (mikasa) at (90,865) {\vt{崇仁}};
\ch{e123}{858}{mikasa,e124}
\node[mn] (mikasa2) at (75,878) {\vt{︵三笠宮︶}};
\kids{mikasa}{951}{960}{35/寛仁,63/憲仁︵高円宮︶,91/宜仁︵桂宮︶}
\node[mn] (masahito) at (141,935) {\vt{正仁}};
\node[emp] (e125) at (204,937) {\vtn{今上}{125}};
\ch{e124}{928}{masahito,e125}
\node[mn] (hitachi) at (125,945) {\vt{︵常陸宮︶}};
\kids{e125}{996}{1003}{173/文仁｜悠仁,204/徳仁}
\node[mn] (akishino) at (157,1010) {\vt{︵秋篠宮︶}};
\node[emp,nl=115] (e115) at (460,543) {\vt{桜町}};
\ch{e114}{534}{e115}
\kids{e114}{534}{542}{485/良視,509/寛全,529/忠篤,550/保良}
\node[emp,rd] (e117) at (445,598) {\vtn{後桜町}{117}};
\node[emp,nr=116] (e116) at (532,598) {\vt{桃園}};
\ch{e115}{590}{e117,e116}
\node[mn] (sadamochi) at (512,652) {\vt{貞行}};
\node[emp,nr=118] (e118) at (535,654) {\vt{後桃園}};
\ch{e116}{644}{sadamochi,e118}
% Fushimi-no-miya in Edo
\kids{fsb}{283}{297}{639/重慶,689/邦道,712/邦尚}
\node[mn] (sadayuki) at (665,297) {\vt{貞致}};
\ch{fsb}{283}{sadayuki}
\node[mn] (kuninaga) at (665,366) {\vt{邦永}};
\draw[lk] (sadayuki.south) -- (kuninaga.north);
\node[mn] (sadatake) at (665,411) {\vt{貞建}};
\ch{kuninaga}{406}{sadatake}
\kids{kuninaga}{406}{411}{691/尊祐,718/道承}
\node[mn] (kuniyori) at (644,508) {\vt{邦頼}};
\ch{sadatake}{468}{kuniyori}
\kids{sadatake}{468}{477}{665/邦忠｜貞行,691/尊真,718/尊英}
\node[mn] (sadayoshi) at (644,571) {\vt{貞敬}};
\ch{kuniyori}{564}{sadayoshi}
\kids{kuniyori}{564}{571}{624/公澄}
\node[mn] (kuniie) at (644,643) {\vt{邦家}};
\ch{sadayoshi}{635}{kuniie}
\kids{sadayoshi}{635}{643}{624/守脩︵梨本宮︶,670/尊常,696/尊誠,720/尊宝}
\kids{kuniie}{728}{737}{273/依仁︵東伏見宮︶,314/載仁｜博義,410/智成,446/博経｜博厚,569/彰仁,612/貞教,717/晃｜菊麿｜武彦}
\node[mn] (sadanaru) at (371,737) {\vt{貞愛}};
\node[mn] (yoshihisa) at (522,737) {\vt{能久}};
\node[mn] (asahiko) at (654,737) {\vt{朝彦}};
\ch{kuniie}{728}{sadanaru,yoshihisa,asahiko}
\node[mn] (kanin3) at (298,742) {\vt{︵閑院宮︶}};
\node[mn] (kitashira1) at (393,742) {\vt{︵北白川宮︶}};
\node[mn] (kacho1) at (430,742) {\vt{︵華頂宮︶}};
\node[mn] (kitashira2) at (506,742) {\vt{︵北白川宮︶}};
\node[mn] (komatsu) at (553,742) {\vt{︵小松宮︶}};
\node[mn] (kuni) at (638,742) {\vt{︵久邇宮︶}};
\node[mn] (yamashina) at (701,742) {\vt{︵山階宮︶}};
\kids{sadanaru}{809}{817}{369/邦芳}
\node[mn] (hiroyasu) at (417,817) {\vt{博恭}};
\ch{sadanaru}{809}{hiroyasu}
\node[mn] (kacho2) at (401,818) {\vt{︵華頂宮︶}};
\kids{hiroyasu}{880}{888}{358/伏見博英,385/華頂博信,410/博忠｜博明,439/博義}
\kids{yoshihisa}{806}{815}{472/小松輝久,497/成久｜永久｜道久,534/恒久｜恒徳}
\node[mn] (takeda2) at (518,820) {\vt{︵竹田宮︶}};
\kids{asahiko}{806}{815}{554/稔彦︵東久邇宮︶,576/鳩彦︵朝香宮︶,597/多嘉,618/守正︵梨本宮︶,640/邦彦｜朝融,686/邦憲｜恒憲}
\node[mn] (kaya) at (670,820) {\vt{︵賀陽宮︶}};
\end{tikzpicture}
\end{document}
